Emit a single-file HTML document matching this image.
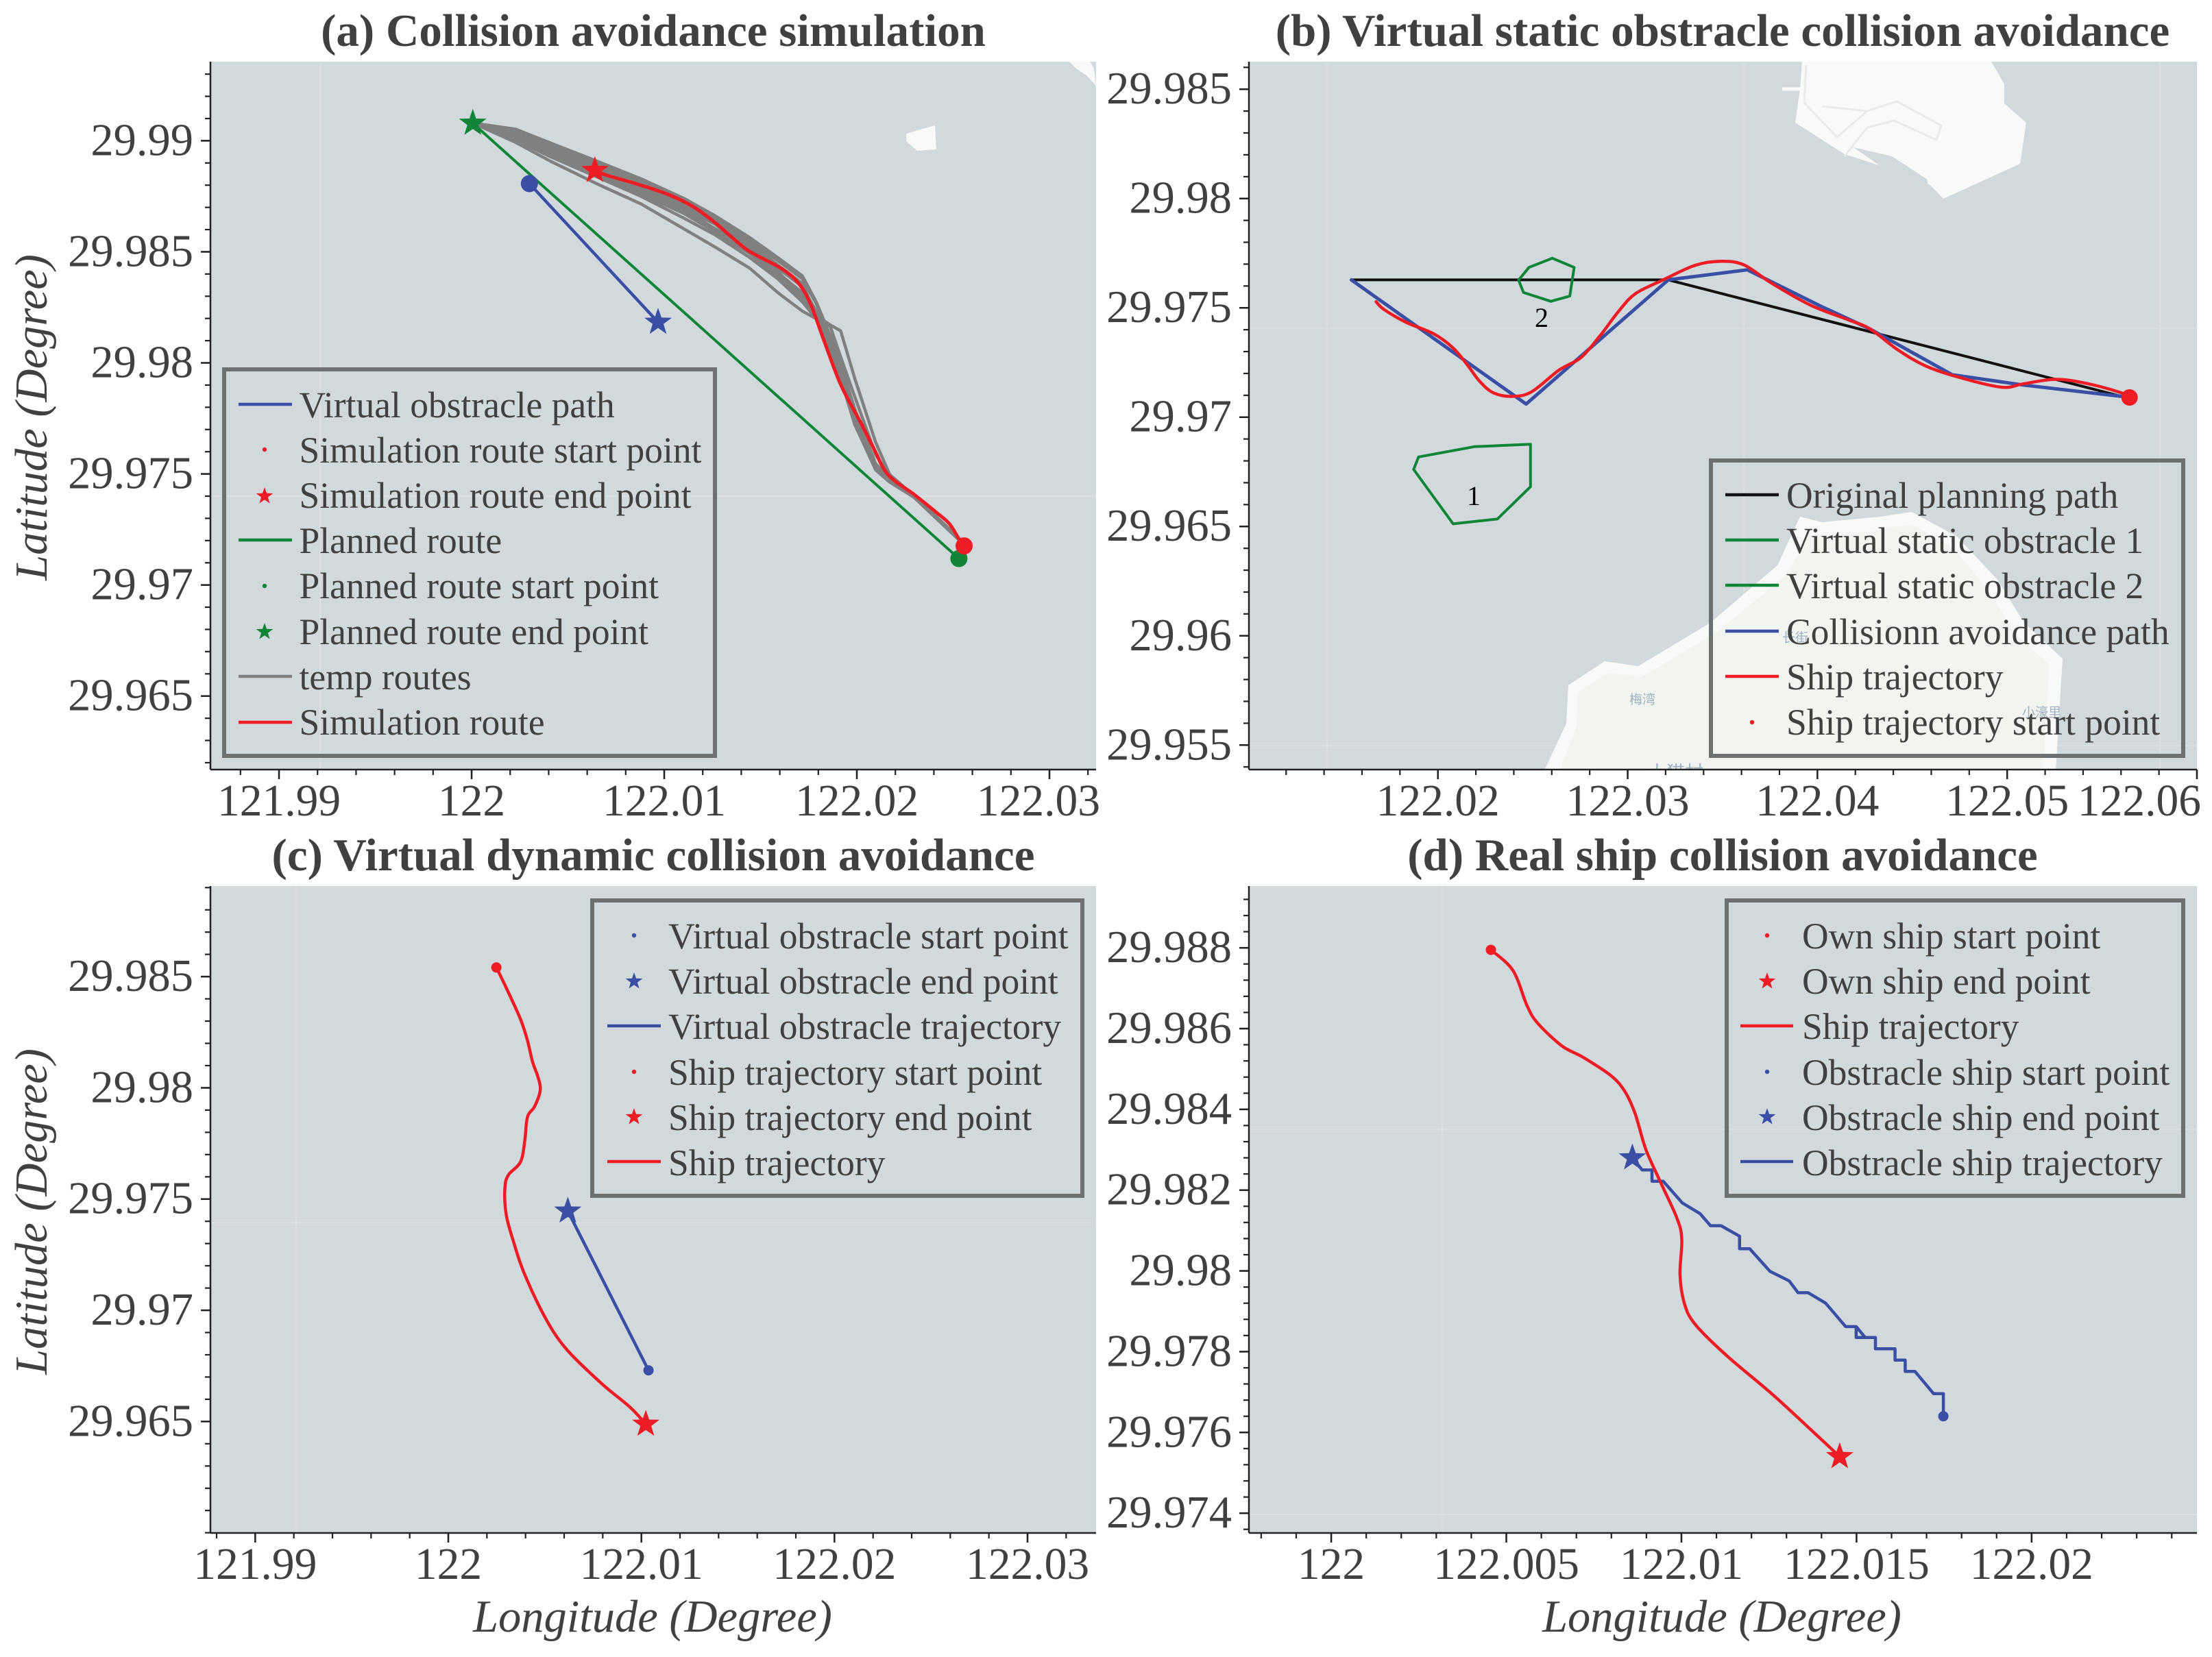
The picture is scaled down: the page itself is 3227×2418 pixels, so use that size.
<!DOCTYPE html>
<html lang="en">
<head>
<meta charset="utf-8">
<title>Collision avoidance figure</title>
<style>
html,body{margin:0;padding:0;background:#fff;}
svg{display:block;font-family:"Liberation Serif","Noto Serif CJK SC",serif;}
.ttl{font-size:67px;font-weight:bold;fill:#404040;}
.axt{font-size:66.5px;font-style:italic;fill:#404040;}
.lg{font-size:53.5px;fill:#404040;}
.box{fill:none;stroke:#6d7071;stroke-width:6;}
.grid{stroke:#dadfe2;stroke-width:2;}
.sea{fill:#d2d9dd;}
.land{fill:#f9faf8;}
.inner{fill:#f1f4ef;}
.road{fill:none;stroke:#e8ebe9;stroke-width:3;}
.cjk{font-size:19px;fill:#9fb0c0;font-family:"Liberation Serif","Noto Sans CJK SC",sans-serif;}
</style>
</head>
<body>
<svg id="fig" xmlns="http://www.w3.org/2000/svg" width="3227" height="2418" viewBox="0 0 3227 2418">
<defs><clipPath id="clipb"><rect x="1822" y="90" width="1383" height="1033"/></clipPath></defs>
<rect width="3227" height="2418" fill="#fff"/>

<g>
<rect class="sea" x="307" y="90" width="1292" height="1033"/>
<line class="grid" x1="467" x2="467" y1="90" y2="1123"/>
<line class="grid" x1="307" x2="1599" y1="724" y2="724"/>
<polygon class="land" points="1322,195 1364,183 1366,218 1338,220 1322,206"/>
<polygon class="land" points="1560,90 1590,90 1596,100 1599,125 1585,110 1570,100"/>
</g>

<g clip-path="url(#clipb)">
<rect class="sea" x="1822" y="90" width="1383" height="1033"/>
<line class="grid" x1="1936" x2="1936" y1="90" y2="1123"/>
<line class="grid" x1="2544" x2="2544" y1="90" y2="1123"/>
<line class="grid" x1="3151" x2="3151" y1="90" y2="1123"/>
<line class="grid" x1="1822" x2="3205" y1="479" y2="479"/>
<line class="grid" x1="1822" x2="3205" y1="1088" y2="1088"/>
<polygon class="land" points="2629,88 2626,130 2619,179 2691,225 2744,242 2816,270 2835,290 2947,239 2956,179 2924,151 2924,123 2904,88"/>
<line class="road" style="stroke:#f9faf8;stroke-width:5" x1="2600" y1="130" x2="2632" y2="130"/>
<polyline class="road" points="2658,155 2724,162 2767,148 2832,183 2825,204 2763,176 2724,186 2691,228"/>
<polyline class="road" points="2635,95 2632,150 2680,200 2724,162"/>
<polygon class="sea" points="2704,215 2760,228 2812,262 2812,280 2740,240"/>
<polygon class="land" points="2252,1126 2285,1056 2288,1000 2341,965 2390,972 2495,909 2593,825 2626,754 2658,762 2744,754 2789,747 2855,783 2914,846 2953,909 3009,961 2999,1126"/>
<polygon class="inner" points="2275,1126 2300,1060 2302,1010 2345,982 2395,988 2505,922 2605,840 2640,780 2700,780 2790,765 2850,800 2900,860 2940,925 2990,970 2980,1126"/>
<text class="cjk" x="2377" y="1027">梅湾</text>
<text class="cjk" x="2600" y="937">长街</text>
<text class="cjk" x="2950" y="1046">小濠里</text>
<text class="cjk" x="2404" y="1137" style="font-size:27px">大猫村</text>
</g>

<g>
<rect class="sea" x="307" y="1293" width="1292" height="944"/>
<line class="grid" x1="432" x2="432" y1="1293" y2="2237"/>
<line class="grid" x1="307" x2="1599" y1="1784" y2="1784"/>
</g>

<g>
<rect class="sea" x="1822" y="1293" width="1383" height="944"/>
<line class="grid" x1="2104" x2="2104" y1="1293" y2="2237"/>
<line class="grid" x1="1822" x2="3205" y1="1648" y2="1648"/>
<line class="grid" x1="1822" x2="3205" y1="2210" y2="2210"/>
</g>

<text class="ttl" x="953" y="67" text-anchor="middle">(a) Collision avoidance simulation</text>
<text class="ttl" x="2513" y="67" text-anchor="middle">(b) Virtual static obstracle collision avoidance</text>
<text class="ttl" x="953" y="1270" text-anchor="middle">(c) Virtual dynamic collision avoidance</text>
<text class="ttl" x="2513" y="1270" text-anchor="middle">(d) Real ship collision avoidance</text>

<text class="axt" text-anchor="middle" transform="translate(68,609) rotate(-90)">Latitude (Degree)</text>
<text class="axt" text-anchor="middle" transform="translate(68,1768) rotate(-90)">Latitude (Degree)</text>
<text class="axt" x="952" y="2381" text-anchor="middle">Longitude (Degree)</text>
<text class="axt" x="2512" y="2381" text-anchor="middle">Longitude (Degree)</text>

<g id="plots"></g>

<text x="2150" y="737" text-anchor="middle" font-size="40" fill="#000">1</text>
<text x="2249" y="477" text-anchor="middle" font-size="40" fill="#000">2</text>

<g>
<rect class="box" x="327" y="539" width="716" height="564"/>
<text class="lg" x="436.5" y="609">Virtual obstracle path</text>
<text class="lg" x="436.5" y="675">Simulation route start point</text>
<text class="lg" x="436.5" y="741">Simulation route end point</text>
<text class="lg" x="436.5" y="807">Planned route</text>
<text class="lg" x="436.5" y="873">Planned route start point</text>
<text class="lg" x="436.5" y="940">Planned route end point</text>
<text class="lg" x="436.5" y="1006">temp routes</text>
<text class="lg" x="436.5" y="1072">Simulation route</text>
</g>

<g>
<rect class="box" x="2496" y="672" width="689" height="431"/>
<text class="lg" x="2606" y="741">Original planning path</text>
<text class="lg" x="2606" y="807">Virtual static obstracle 1</text>
<text class="lg" x="2606" y="873">Virtual static obstracle 2</text>
<text class="lg" x="2606" y="940">Collisionn avoidance path</text>
<text class="lg" x="2606" y="1006">Ship trajectory</text>
<text class="lg" x="2606" y="1072">Ship trajectory start point</text>
</g>

<g>
<rect class="box" x="864" y="1314" width="715" height="431"/>
<text class="lg" x="975" y="1384">Virtual obstracle start point</text>
<text class="lg" x="975" y="1450">Virtual obstracle end point</text>
<text class="lg" x="975" y="1516">Virtual obstracle trajectory</text>
<text class="lg" x="975" y="1583">Ship trajectory start point</text>
<text class="lg" x="975" y="1649">Ship trajectory end point</text>
<text class="lg" x="975" y="1715">Ship trajectory</text>
</g>

<g>
<rect class="box" x="2519" y="1314" width="666" height="431"/>
<text class="lg" x="2629" y="1384">Own ship start point</text>
<text class="lg" x="2629" y="1450">Own ship end point</text>
<text class="lg" x="2629" y="1516">Ship trajectory</text>
<text class="lg" x="2629" y="1583">Obstracle ship start point</text>
<text class="lg" x="2629" y="1649">Obstracle ship end point</text>
<text class="lg" x="2629" y="1715">Obstracle ship trajectory</text>
</g>

<g id="legendMarks"></g>
</svg>

<script>
// ---------- Panel (a) data ----------
const aXTicks = [121.99, 122, 122.01, 122.02, 122.03];
const aXTickLabels = ['121.99', '122', '122.01', '122.02', '122.03'];
const aYTicks = [29.965, 29.97, 29.975, 29.98, 29.985, 29.99];
const aYTickLabels = ['29.965', '29.97', '29.975', '29.98', '29.985', '29.99'];
const aObstacleLon = [122.003, 122.00968];
const aObstacleLat = [29.98807, 29.98183];
const aPlannedLon = [122.00006, 122.0253];
const aPlannedLat = [29.99079, 29.97119];
const aSimLon = [122.02557, 122.02525, 122.02479, 122.02407, 122.02298, 122.02162, 122.02089, 122.02025, 122.01916, 122.01826, 122.01762, 122.01699, 122.01608, 122.01444, 122.01354, 122.01263, 122.01154, 122.01027, 122.00863, 122.007, 122.0064];
const aSimLat = [29.97176, 29.97215, 29.97277, 29.97331, 29.97407, 29.97497, 29.97613, 29.97723, 29.97903, 29.98109, 29.9826, 29.98357, 29.98425, 29.98501, 29.98563, 29.98632, 29.98701, 29.98756, 29.98804, 29.98845, 29.98866];
const tempLon = [122.00006, 122.00228, 122.00409, 122.00646, 122.00881, 122.01099, 122.01263, 122.01444, 122.0159, 122.01717, 122.01789, 122.01862, 122.01916, 122.01989, 122.02098, 122.02171, 122.02298, 122.02525];
const tempRouteA = [29.9908, 29.99052, 29.9899, 29.98894, 29.98804, 29.98722, 29.98639, 29.98522, 29.98412, 29.98295, 29.98213, 29.98171, 29.98144, 29.97931, 29.97642, 29.97497, 29.97401, 29.97215];
const tempRouteB = [29.9908, 29.99038, 29.98969, 29.9888, 29.98791, 29.98708, 29.98625, 29.98508, 29.98385, 29.98275, 29.98206, 29.98164, 29.98027, 29.97848, 29.97587, 29.9749, 29.97401, 29.97215];
const tempRouteC = [29.9908, 29.99048, 29.9899, 29.9891, 29.98828, 29.98742, 29.98663, 29.98564, 29.98474, 29.98392, 29.98275, 29.98123, 29.97999, 29.97793, 29.97545, 29.97483, 29.97401, 29.97215];
const tempRouteD = [29.9908, 29.99031, 29.98963, 29.98887, 29.98804, 29.98715, 29.98646, 29.98543, 29.9844, 29.98357, 29.9822, 29.98082, 29.97944, 29.97738, 29.97525, 29.9747, 29.97394, 29.97208];
const tempRouteE = [29.9908, 29.99018, 29.98942, 29.98859, 29.9877, 29.98687, 29.98605, 29.98508, 29.98405, 29.98316, 29.98206, 29.98068, 29.97931, 29.97724, 29.97518, 29.97463, 29.97394, 29.97208];
const tempRouteF = [29.9908, 29.99004, 29.98928, 29.98839, 29.98749, 29.98653, 29.98577, 29.98474, 29.98378, 29.98275, 29.98199, 29.98068, 29.97931, 29.97724, 29.97518, 29.97463, 29.97394, 29.97208];
const tempRouteG = [29.9908, 29.98993, 29.98908, 29.98808, 29.98715, 29.98605, 29.98522, 29.98426, 29.98316, 29.98233, 29.98199, 29.98068, 29.97931, 29.97724, 29.97525, 29.9747, 29.97394, 29.97208];
const tempRouteH = [29.9908, 29.99025, 29.98956, 29.98873, 29.98784, 29.98694, 29.98625, 29.98529, 29.98426, 29.98343, 29.98233, 29.98096, 29.97958, 29.97752, 29.97532, 29.97477, 29.97401, 29.97215];
const tempRouteI = [29.9908, 29.99042, 29.98976, 29.98897, 29.98814, 29.98731, 29.98653, 29.98553, 29.9846, 29.98378, 29.98268, 29.98109, 29.97986, 29.97779, 29.97538, 29.97479, 29.97401, 29.97215];
const tempRouteJ = [29.9908, 29.99011, 29.98935, 29.9885, 29.98759, 29.98674, 29.98591, 29.98492, 29.98392, 29.98295, 29.98203, 29.98068, 29.97931, 29.97724, 29.97521, 29.97466, 29.97394, 29.97208];

// ---------- Panel (b) data ----------
const bXTicks = [122.02, 122.03, 122.04, 122.05, 122.06];
const bXTickLabels = ['122.02', '122.03', '122.04', '122.05', '122.06'];
const bYTicks = [29.955, 29.96, 29.965, 29.97, 29.975, 29.98, 29.985];
const bYTickLabels = ['29.955', '29.96', '29.965', '29.97', '29.975', '29.98', '29.985'];
const bPlanLon = [122.01544, 122.03214, 122.05602];
const bPlanLat = [29.97628, 29.97628, 29.97095];
const bAvoidLon = [122.01544, 122.02465, 122.03214, 122.03631, 122.04019, 122.04278, 122.0471, 122.05084, 122.05602];
const bAvoidLat = [29.97628, 29.9706, 29.97628, 29.97674, 29.97507, 29.97403, 29.97194, 29.97147, 29.97095];
const bShipLon = [122.01674, 122.01717, 122.01832, 122.01976, 122.02077, 122.02149, 122.02221, 122.02293, 122.02393, 122.02494, 122.02638, 122.02753, 122.02854, 122.02954, 122.03041, 122.03185, 122.03357, 122.03501, 122.03616, 122.0376, 122.03962, 122.04163, 122.04278, 122.04422, 122.04566, 122.04739, 122.04969, 122.05084, 122.05257, 122.0543, 122.05602, 122.05645];
const bShipLat = [29.97528, 29.97492, 29.97434, 29.97382, 29.97319, 29.97246, 29.97163, 29.97111, 29.97095, 29.97116, 29.97215, 29.97272, 29.97372, 29.97486, 29.97565, 29.97627, 29.97695, 29.97713, 29.97695, 29.97612, 29.97513, 29.97445, 29.97403, 29.97309, 29.97236, 29.97184, 29.97137, 29.97152, 29.97173, 29.97152, 29.97111, 29.9709];
const bObstacle1Lon = [122.01898, 122.02192, 122.02488, 122.02488, 122.02313, 122.0208, 122.01872, 122.01898];
const bObstacle1Lat = [29.96818, 29.96865, 29.96876, 29.96682, 29.96534, 29.96512, 29.96761, 29.96818];
const bObstacle2Lon = [122.02603, 122.02718, 122.02695, 122.02595, 122.02451, 122.02425, 122.0248, 122.02603];
const bObstacle2Lat = [29.97727, 29.97685, 29.97554, 29.9753, 29.9757, 29.97627, 29.97685, 29.97727];

// ---------- Panel (c) data ----------
const cXTicks = [121.99, 122, 122.01, 122.02, 122.03];
const cXTickLabels = ['121.99', '122', '122.01', '122.02', '122.03'];
const cYTicks = [29.965, 29.97, 29.975, 29.98, 29.985];
const cYTickLabels = ['29.965', '29.97', '29.975', '29.98', '29.985'];
const cShipLon = [122.00249, 122.003, 122.00374, 122.0041, 122.00436, 122.00465, 122.00476, 122.00447, 122.0041, 122.00396, 122.00374, 122.00311, 122.00293, 122.003, 122.00337, 122.00392, 122.00502, 122.00612, 122.00795, 122.00942, 122.01023];
const cShipLat = [29.98541, 29.9845, 29.98308, 29.98213, 29.98118, 29.98047, 29.97988, 29.97916, 29.97869, 29.97762, 29.97667, 29.97608, 29.97548, 29.9743, 29.97311, 29.97169, 29.96967, 29.96825, 29.9667, 29.96564, 29.96488];
const cObstacleLon = [122.01037, 122.00781, 122.00619];
const cObstacleLat = [29.9673, 29.97169, 29.97446];

// ---------- Panel (d) data ----------
const dXTicks = [122, 122.005, 122.01, 122.015, 122.02];
const dXTickLabels = ['122', '122.005', '122.01', '122.015', '122.02'];
const dYTicks = [29.974, 29.976, 29.978, 29.98, 29.982, 29.984, 29.986, 29.988];
const dYTickLabels = ['29.974', '29.976', '29.978', '29.98', '29.982', '29.984', '29.986', '29.988'];
const dOwnLon = [122.00456, 122.00519, 122.00559, 122.00589, 122.00659, 122.00719, 122.00798, 122.00838, 122.00868, 122.00898, 122.00938, 122.00988, 122.01001, 122.00996, 122.01008, 122.01038, 122.01128, 122.01268, 122.01452];
const dOwnLat = [29.98795, 29.98744, 29.98657, 29.98614, 29.98557, 29.98529, 29.98484, 29.98445, 29.98389, 29.98302, 29.98224, 29.98129, 29.98077, 29.97991, 29.97921, 29.97869, 29.97791, 29.97688, 29.9754];
const dTargetLon = [122.01748, 122.01748, 122.0172, 122.01667, 122.01639, 122.01639, 122.0161, 122.0161, 122.01554, 122.01554, 122.01499, 122.01499, 122.01525, 122.01499, 122.01469, 122.01412, 122.01362, 122.01333, 122.01308, 122.01253, 122.01195, 122.01166, 122.01166, 122.01113, 122.01083, 122.01053, 122.01003, 122.00948, 122.00916, 122.00916, 122.00888, 122.0086];
const dTargetLat = [29.9764, 29.97696, 29.97696, 29.97751, 29.97751, 29.97779, 29.97779, 29.97807, 29.97807, 29.97835, 29.97835, 29.97862, 29.97835, 29.97862, 29.97862, 29.9792, 29.97946, 29.97946, 29.97975, 29.97999, 29.98055, 29.98055, 29.98086, 29.98112, 29.98112, 29.98142, 29.98168, 29.98222, 29.98222, 29.9825, 29.9825, 29.9828];

// ---------- Helpers ----------
const NS = 'http://www.w3.org/2000/svg';
const RED = '#ee1c25', BLUE = '#3a4fa3', GREEN = '#108437', GRAY = '#808080', BLACK = '#111';
const plots = document.getElementById('plots');
const legendMarks = document.getElementById('legendMarks');

function el(tag, attrs, parent) {
  const e = document.createElementNS(NS, tag);
  for (const k in attrs) e.setAttribute(k, attrs[k]);
  parent.appendChild(e);
  return e;
}
function makeAxes(left, right, top, bottom, lonMin, lonMax, latMin, latMax) {
  return {
    left, right, top, bottom, lonMin, lonMax, latMin, latMax,
    x: lon => left + (lon - lonMin) / (lonMax - lonMin) * (right - left),
    y: lat => bottom - (lat - latMin) / (latMax - latMin) * (bottom - top)
  };
}
function drawAxes(p, prefix, xTicks, xLabels, yTicks, yLabels, xMinor, yMinor) {
  const g = el('g', {}, plots);
  
  
  const xAxis = el('line', {x1: p.left, x2: p.right, y1: p.bottom, y2: p.bottom, stroke: '#222', 'stroke-width': 2.5}, g);
  
  
  const yAxis = el('line', {x1: p.left, x2: p.left, y1: p.top, y2: p.bottom, stroke: '#222', 'stroke-width': 2.5}, g);
  
  
  for (let i = Math.ceil(p.lonMin / xMinor); i * xMinor <= p.lonMax + 1e-9; i++) {
    const m = el('line', {x1: p.x(i * xMinor), x2: p.x(i * xMinor), y1: p.bottom, y2: p.bottom + 8, stroke: '#222', 'stroke-width': 2.2}, g);
    
    
  }
  for (let i = Math.ceil(p.latMin / yMinor); i * yMinor <= p.latMax + 1e-9; i++) {
    const m = el('line', {x1: p.left - 8, x2: p.left, y1: p.y(i * yMinor), y2: p.y(i * yMinor), stroke: '#222', 'stroke-width': 2.2}, g);
    
    
  }
  xTicks.forEach((v, i) => {
    const t = el('line', {x1: p.x(v), x2: p.x(v), y1: p.bottom, y2: p.bottom + 14, stroke: '#222', 'stroke-width': 2.5}, g);
    
    
    const l = el('text', {x: p.x(v), y: p.bottom + 67, 'text-anchor': 'middle', 'font-size': 65.5, fill: '#404040'}, g);
    
    
    l.textContent = xLabels[i];
    const w = l.getComputedTextLength();
    if (p.x(v) + w / 2 > p.right + 6) l.setAttribute('x', p.right + 6 - w / 2);
  });
  yTicks.forEach((v, i) => {
    const t = el('line', {x1: p.left - 14, x2: p.left, y1: p.y(v), y2: p.y(v), stroke: '#222', 'stroke-width': 2.5}, g);
    
    
    const l = el('text', {x: p.left - 25, y: p.y(v) + 21, 'text-anchor': 'end', 'font-size': 66.5, fill: '#404040'}, g);
    
    
    l.textContent = yLabels[i];
  });
}
function drawLine(p, lons, lats, color, width) {
  const pts = lons.map((lon, i) => p.x(lon).toFixed(1) + ',' + p.y(lats[i]).toFixed(1)).join(' ');
  return el('polyline', {points: pts, fill: 'none', stroke: color, 'stroke-width': width, 'stroke-linejoin': 'round', 'stroke-linecap': 'round'}, plots);
}
function drawSmooth(p, lons, lats, color, width) {
  const P = lons.map((lon, i) => [p.x(lon), p.y(lats[i])]);
  let d = 'M' + P[0][0].toFixed(1) + ' ' + P[0][1].toFixed(1);
  for (let i = 0; i < P.length - 1; i++) {
    const a = P[Math.max(i - 1, 0)], b = P[i], c = P[i + 1], e = P[Math.min(i + 2, P.length - 1)];
    const c1x = b[0] + (c[0] - a[0]) / 6, c1y = b[1] + (c[1] - a[1]) / 6;
    const c2x = c[0] - (e[0] - b[0]) / 6, c2y = c[1] - (e[1] - b[1]) / 6;
    d += ' C' + c1x.toFixed(1) + ' ' + c1y.toFixed(1) + ' ' + c2x.toFixed(1) + ' ' + c2y.toFixed(1) + ' ' + c[0].toFixed(1) + ' ' + c[1].toFixed(1);
  }
  return el('path', {d: d, fill: 'none', stroke: color, 'stroke-width': width, 'stroke-linecap': 'round'}, plots);
}
function starPoints(cx, cy, r) {
  const out = [];
  for (let i = 0; i < 10; i++) {
    const rad = i % 2 ? r * 0.4 : r;
    const a = -Math.PI / 2 + i * Math.PI / 5;
    out.push((cx + rad * Math.cos(a)).toFixed(1) + ',' + (cy + rad * Math.sin(a)).toFixed(1));
  }
  return out.join(' ');
}
function drawStar(p, lon, lat, color, r) {
  return el('polygon', {points: starPoints(p.x(lon), p.y(lat), r), fill: color}, plots);
}
function drawDot(p, lon, lat, color, r) {
  return el('circle', {cx: p.x(lon), cy: p.y(lat), r: r, fill: color}, plots);
}
function handleLine(x1, x2, y, color) {
  return el('line', {x1: x1, x2: x2, y1: y, y2: y, stroke: color, 'stroke-width': 4.5}, legendMarks);
}
function handleDot(x, y, color) {
  return el('circle', {cx: x, cy: y, r: 3.2, fill: color}, legendMarks);
}
function handleStar(x, y, color) {
  return el('polygon', {points: starPoints(x, y, 13), fill: color}, legendMarks);
}

// ---------- Panels ----------
const pa = makeAxes(307, 1599, 90, 1123, 121.98644, 122.03242, 29.96169, 29.99356);
const pb = makeAxes(1822, 3205, 90, 1123, 122.01004, 122.06, 29.95388, 29.98626);
const pc = makeAxes(307, 1599, 1293, 2237, 121.98768, 122.03355, 29.95999, 29.98907);
const pd = makeAxes(1822, 3205, 1293, 2237, 121.99765, 122.02472, 29.97351, 29.98953);

drawAxes(pa, 'panel-a', aXTicks, aXTickLabels, aYTicks, aYTickLabels, 0.002, 0.001);
drawAxes(pb, 'panel-b', bXTicks, bXTickLabels, bYTicks, bYTickLabels, 0.002, 0.001);
drawAxes(pc, 'panel-c', cXTicks, cXTickLabels, cYTicks, cYTickLabels, 0.002, 0.001);
drawAxes(pd, 'panel-d', dXTicks, dXTickLabels, dYTicks, dYTickLabels, 0.001, 0.0004);

// Panel a series
[tempRouteA, tempRouteB, tempRouteC, tempRouteD, tempRouteE, tempRouteF, tempRouteG, tempRouteH, tempRouteI, tempRouteJ].forEach(function (route) {
  const tempLine = drawLine(pa, tempLon, route, GRAY, 4.5);
  
  
});
const aPlanned = drawLine(pa, aPlannedLon, aPlannedLat, GREEN, 4);


const aObstacle = drawLine(pa, aObstacleLon, aObstacleLat, BLUE, 4.5);


const aSim = drawSmooth(pa, aSimLon, aSimLat, RED, 5);


const aBlueDot = drawDot(pa, aObstacleLon[0], aObstacleLat[0], BLUE, 12.5);


const aBlueStar = drawStar(pa, aObstacleLon[1], aObstacleLat[1], BLUE, 21);


const aGreenDot = drawDot(pa, aPlannedLon[1], aPlannedLat[1], GREEN, 12.5);


const aGreenStar = drawStar(pa, aPlannedLon[0], aPlannedLat[0], GREEN, 21);


const aRedDot = drawDot(pa, aSimLon[0], aSimLat[0], RED, 12.5);


const aRedStar = drawStar(pa, aSimLon[aSimLon.length - 1], aSimLat[aSimLat.length - 1], RED, 21);



// Panel b series
const bPlan = drawLine(pb, bPlanLon, bPlanLat, BLACK, 4);


const bObs1 = drawLine(pb, bObstacle1Lon, bObstacle1Lat, GREEN, 4);


const bObs2 = drawLine(pb, bObstacle2Lon, bObstacle2Lat, GREEN, 4);


const bAvoid = drawLine(pb, bAvoidLon, bAvoidLat, BLUE, 5);


const bShip = drawSmooth(pb, bShipLon, bShipLat, RED, 4.5);


const bDot = drawDot(pb, bShipLon[bShipLon.length - 1], bShipLat[bShipLat.length - 1], RED, 12);



// Panel c series
const cObs = drawLine(pc, cObstacleLon, cObstacleLat, BLUE, 4.5);


const cShip = drawSmooth(pc, cShipLon, cShipLat, RED, 4.5);


const cBlueDot = drawDot(pc, cObstacleLon[0], cObstacleLat[0], BLUE, 7.5);


const cBlueStar = drawStar(pc, cObstacleLon[2], cObstacleLat[2], BLUE, 21);


const cRedDot = drawDot(pc, cShipLon[0], cShipLat[0], RED, 7.5);


const cRedStar = drawStar(pc, cShipLon[cShipLon.length - 1], cShipLat[cShipLat.length - 1], RED, 21);



// Panel d series
const dTarget = drawLine(pd, dTargetLon, dTargetLat, BLUE, 4.5);


const dOwn = drawSmooth(pd, dOwnLon, dOwnLat, RED, 4.5);


const dBlueDot = drawDot(pd, dTargetLon[0], dTargetLat[0], BLUE, 7.5);


const dBlueStar = drawStar(pd, dTargetLon[dTargetLon.length - 1], dTargetLat[dTargetLat.length - 1], BLUE, 21);


const dRedDot = drawDot(pd, dOwnLon[0], dOwnLat[0], RED, 7.5);


const dRedStar = drawStar(pd, dOwnLon[dOwnLon.length - 1], dOwnLat[dOwnLat.length - 1], RED, 21);



// Legend handles: panel a
const la1 = handleLine(348, 426, 590, BLUE);


const la2 = handleDot(386, 656, RED);


const la3 = handleStar(386, 724, RED);


const la4 = handleLine(348, 426, 788, GREEN);


const la5 = handleDot(386, 855, GREEN);


const la6 = handleStar(386, 922, GREEN);


const la7 = handleLine(348, 426, 987, GRAY);


const la8 = handleLine(348, 426, 1054, RED);



// Legend handles: panel b
const lb1 = handleLine(2517, 2595, 722, BLACK);


const lb2 = handleLine(2517, 2595, 788, GREEN);


const lb3 = handleLine(2517, 2595, 854, GREEN);


const lb4 = handleLine(2517, 2595, 921, BLUE);


const lb5 = handleLine(2517, 2595, 987, RED);


const lb6 = handleDot(2556, 1054, RED);



// Legend handles: panel c
const lc1 = handleDot(925, 1365, BLUE);


const lc2 = handleStar(925, 1432, BLUE);


const lc3 = handleLine(886, 964, 1497, BLUE);


const lc4 = handleDot(925, 1564, RED);


const lc5 = handleStar(925, 1630, RED);


const lc6 = handleLine(886, 964, 1695, RED);



// Legend handles: panel d
const ld1 = handleDot(2578, 1365, RED);


const ld2 = handleStar(2578, 1432, RED);


const ld3 = handleLine(2539, 2616, 1497, RED);


const ld4 = handleDot(2578, 1564, BLUE);


const ld5 = handleStar(2578, 1630, BLUE);


const ld6 = handleLine(2539, 2616, 1695, BLUE);


</script>
</body>
</html>
